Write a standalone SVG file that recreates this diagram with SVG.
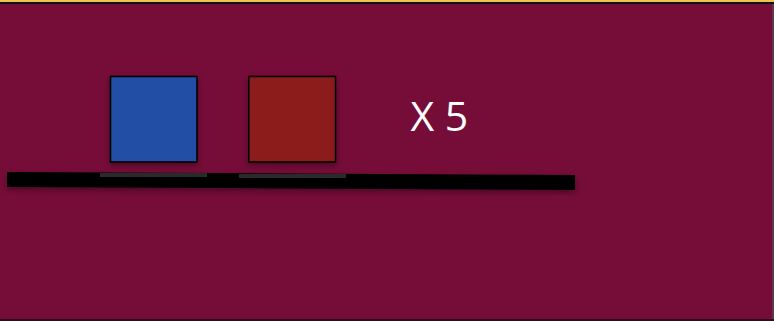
<svg xmlns="http://www.w3.org/2000/svg" width="774" height="321" viewBox="0 0 774 321">
<defs>
<style>
.box{stroke:#000;stroke-width:1.6}
.shadow{fill:#2a2a2a}
.lbl{font-family:"Open Sans","Noto Sans",sans-serif;font-size:41px;fill:#ffffff}
</style>
<filter id="ds" x="-20%" y="-20%" width="140%" height="150%">
<feDropShadow dx="0" dy="3" stdDeviation="3" flood-color="#000" flood-opacity="0.35"/>
</filter>
</defs>
<rect x="0" y="0" width="774" height="321" fill="#760c38"/>
<rect x="0" y="0" width="774" height="2" fill="#f0c050"/>
<rect x="0" y="2" width="774" height="2" fill="#111"/>
<rect x="0" y="319" width="774" height="2" fill="#2a1018"/>
<rect x="772" y="4" width="2" height="315" fill="#5a3a48"/>
<g id="connectors">
<polygon points="7,172 575,175 575,190 7,187" fill="#000" filter="url(#ds)"/>
<rect class="shadow" x="100" y="173" width="107" height="4"/>
<rect class="shadow" x="239" y="174" width="107" height="4"/>
</g>
<g id="blue">
<rect class="box" x="110.5" y="76.5" width="86.5" height="85.5" fill="#2350a5" filter="url(#ds)"/>
</g>
<g id="red">
<rect class="box" x="248.8" y="76.5" width="86.7" height="85.5" fill="#8c1a1c" filter="url(#ds)"/>
</g>
<g id="label">
<text class="lbl" x="410.5" y="131">X 5</text>
</g>
</svg>
